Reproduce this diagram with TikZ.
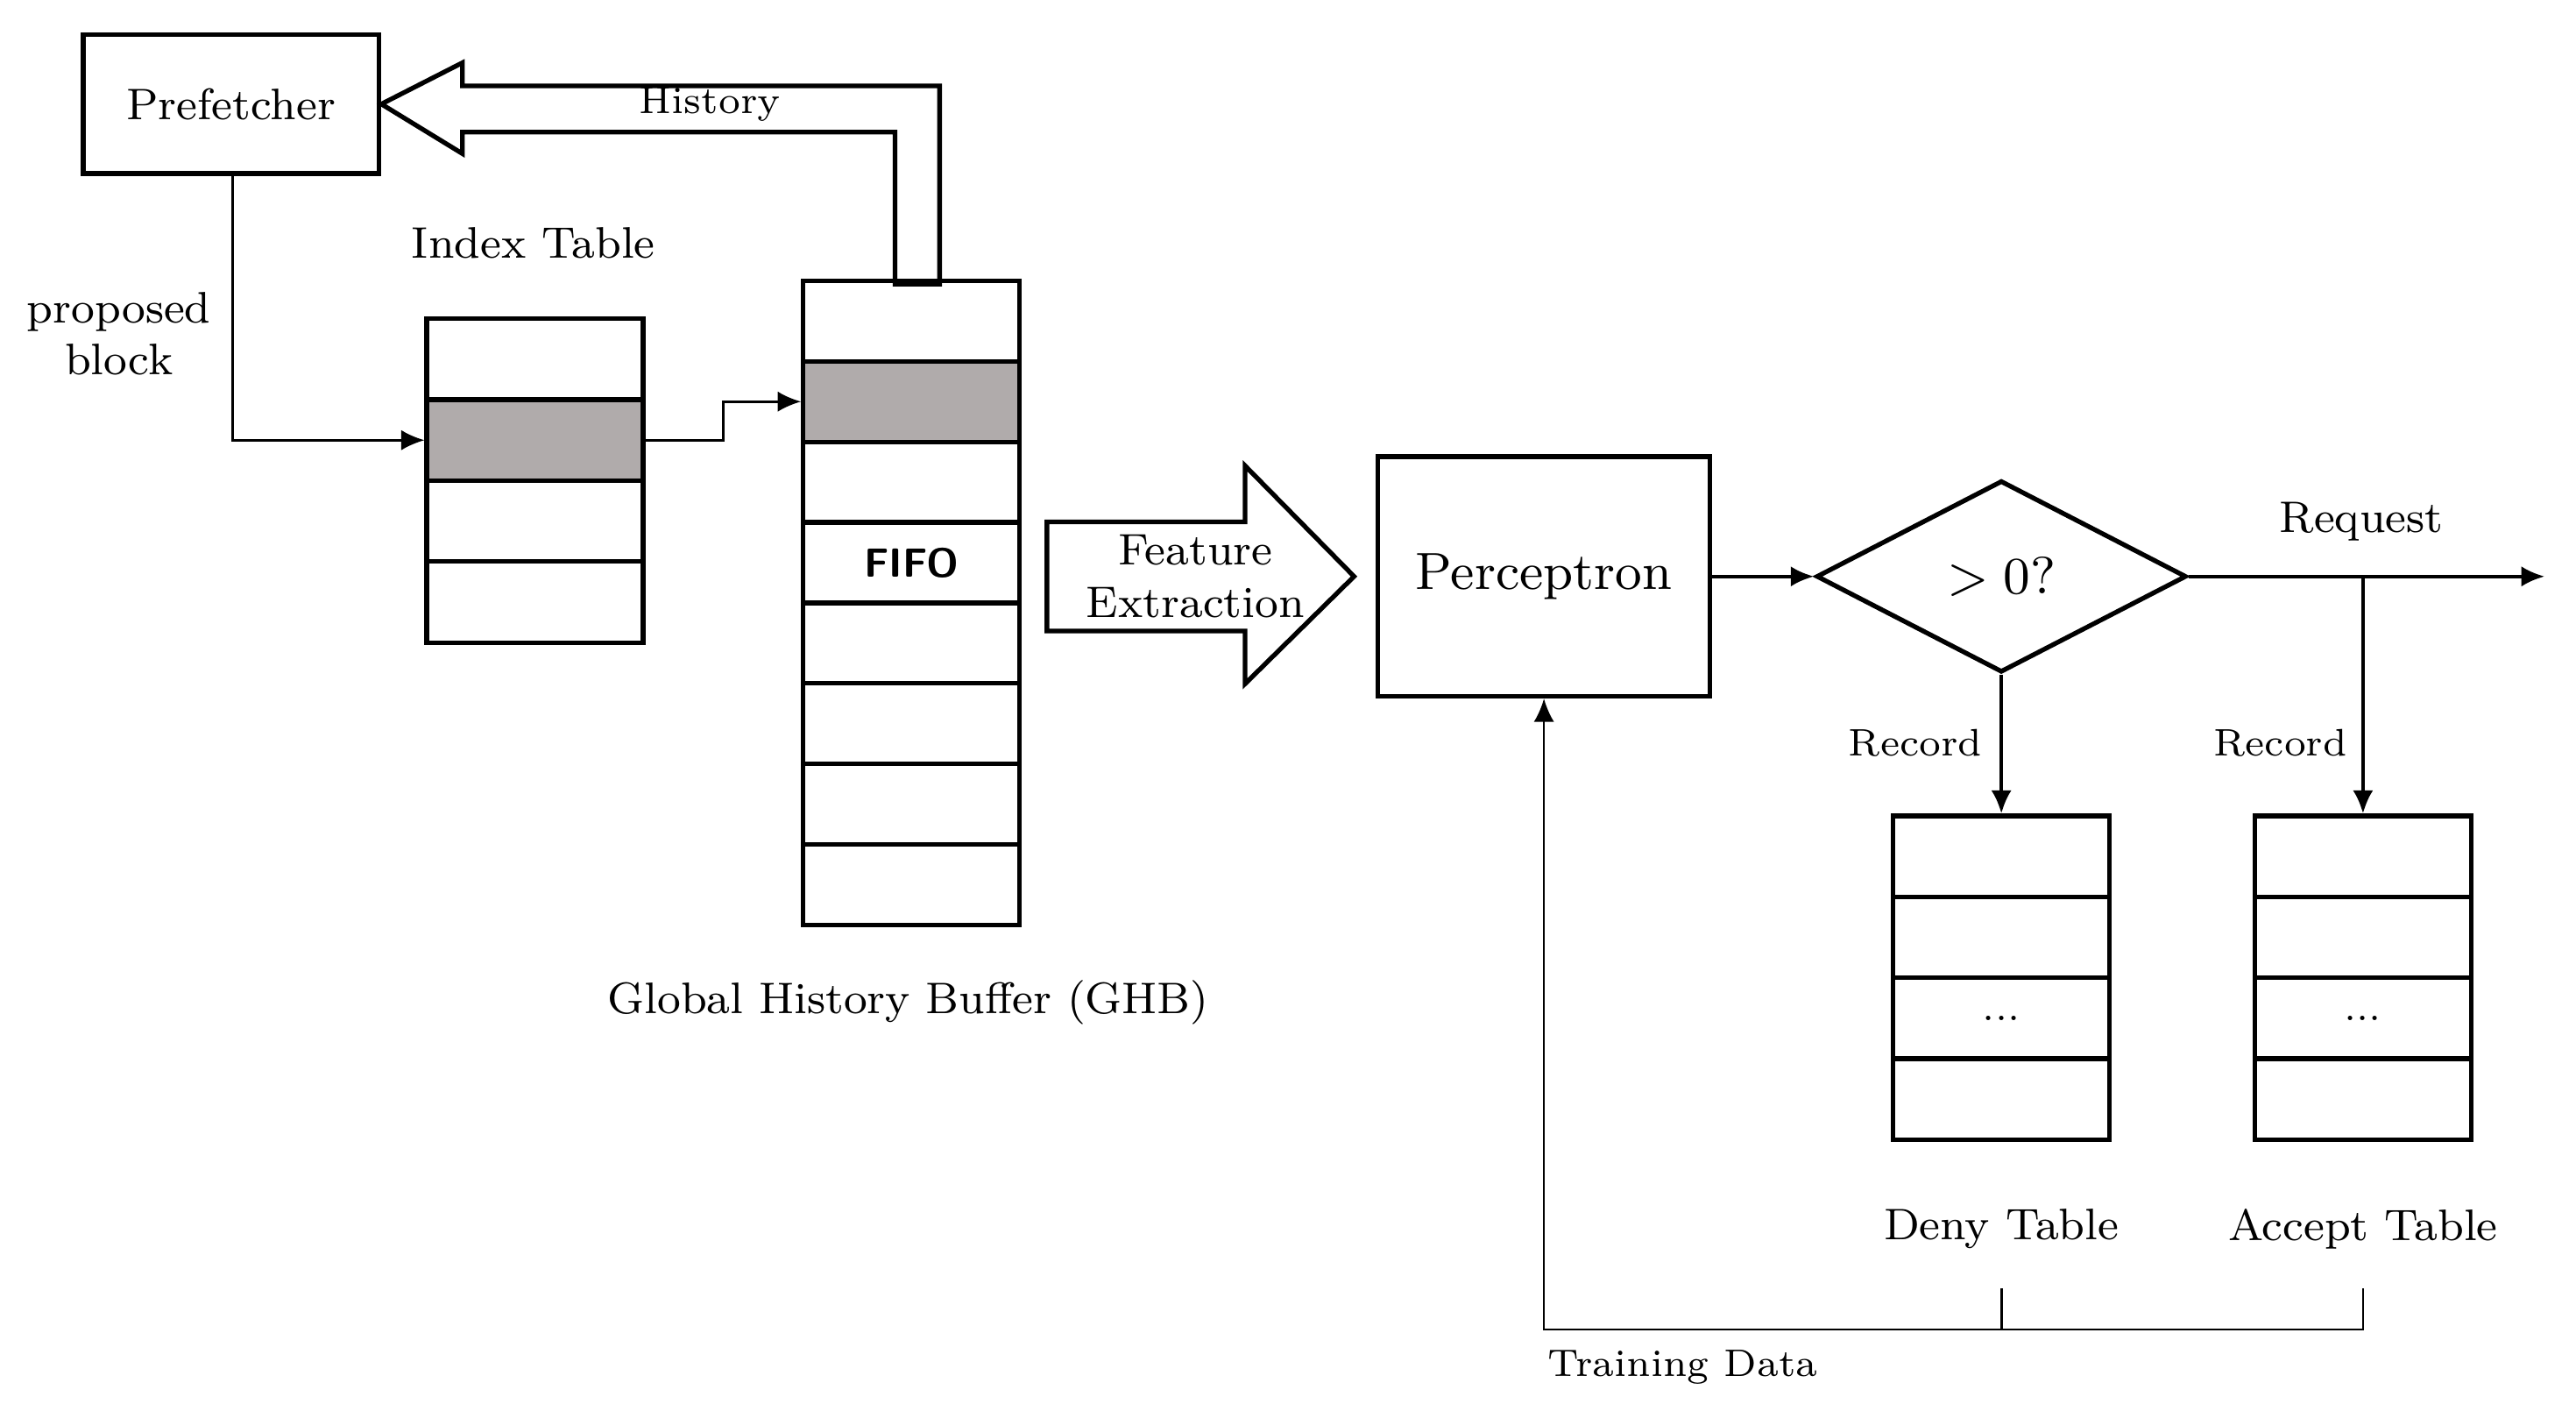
\documentclass[tikz,border=0pt]{standalone}
\usepackage{tikz}
\usetikzlibrary{arrows.meta,positioning,shapes.geometric}
\definecolor{rowgray}{HTML}{B0ABAB}

\begin{document}
\begin{tikzpicture}[x=0.01cm,y=-0.01cm,
  box/.style={draw,thick,inner sep=0pt},
  lbl/.style={font=\fontsize{7.6}{9}\selectfont,align=center},
  slbl/.style={font=\fontsize{6.6}{8}\selectfont},
  arr/.style={-{Latex[length=4pt,width=3.5pt]},semithick},
  cell/.style={draw,thick,minimum width=1.31cm,minimum height=0.49cm,inner sep=0pt}
]
  \useasboundingbox (0,0) rectangle (1560,854);
  % prefetcher and history arrow
  \node[box,minimum width=1.79cm,minimum height=0.84cm,lbl] (pf) at (140,63) {Prefetcher};
  \draw[thick] (555,172) -- (569,172) -- (569,52) -- (280,52) -- (280,38) -- (pf.east)
    -- (280,93) -- (280,80) -- (542,80) -- (542,172) -- cycle;
  \node[slbl] (hist) at (430,63) {History};
  % index table
  \node[lbl] (itl) at (323,147) {Index Table};
  \foreach \i in {0,...,3}
    \node[cell] (it\i) at (324,{217.5+49*\i}) {};
  \fill[rowgray] (it1.south west) rectangle (it1.north east);
  \node[cell] at (it1) {};
  % global history buffer
  \foreach \i in {0,...,7}
    \node[cell,minimum height=0.4875cm] (gh\i) at (552,{194.4+48.75*\i}) {};
  \fill[rowgray] (gh1.south west) rectangle (gh1.north east);
  \node[cell,minimum height=0.4875cm] at (gh1) {};
  \node[font=\sffamily\bfseries\fontsize{7}{8}\selectfont] at (gh3) {FIFO};
  \node[lbl] (ghl) at (550,607) {Global History Buffer (GHB)};
  % links
  \node[lbl] (pb) at (72,202) {proposed\\block};
  \draw[arr,thin] (141,105) |- (it1.west);
  \draw[arr,thin] (it1.east) -| (438,244) |- (gh1.west);
  % feature extraction arrow
  \draw[thick] (634,316) -- (754,316) -- (754,282) -- (820,349) -- (754,414)
    -- (754,382) -- (634,382) -- cycle;
  \node[lbl] (fe) at (724,349) {Feature\\Extraction};
  % perceptron and decision
  \node[box,minimum width=2.01cm,minimum height=1.45cm,font=\fontsize{9}{11}\selectfont] (pc) at (935,349) {Perceptron};
  \node[draw,thick,diamond,aspect=1.93,minimum width=2.24cm,minimum height=1.16cm,inner sep=0pt,
    font=\fontsize{9}{11}\selectfont] (dec) at (1212,349) {$>0$?};
  \draw[arr] (pc.east) -- (dec.west);
  \coordinate (out) at (1541,349);
  \draw[arr] (dec.east) -- (out);
  \node[lbl] (req) at (1430,316) {Request};
  % deny and accept tables
  \foreach \t/\x in {dn/1212,ac/1431}
    \foreach \i in {0,...,3}
      \node[cell] (\t\i) at (\x,{518.5+49*\i}) {};
  \node[slbl] at (dn2) {...};
  \node[slbl] at (ac2) {...};
  \draw[arr] (dec.south) -- (dn0.north);
  \draw[arr] (1431,349) -- (ac0.north);
  \node[slbl] at (1160,450) {Record};
  \node[slbl] at (1381,450) {Record};
  \node[lbl] (dnl) at (1212,744) {Deny Table};
  \node[lbl] (acl) at (1431,744) {Accept Table};
  % training feedback
  \draw[arr,thin] (1212,780) -- (1212,805) -| (pc.south);
  \draw[thin] (1431,780) -- (1431,805) -- (1212,805);
  \node[slbl] (td) at (1019,828) {Training Data};
\end{tikzpicture}
\end{document}
